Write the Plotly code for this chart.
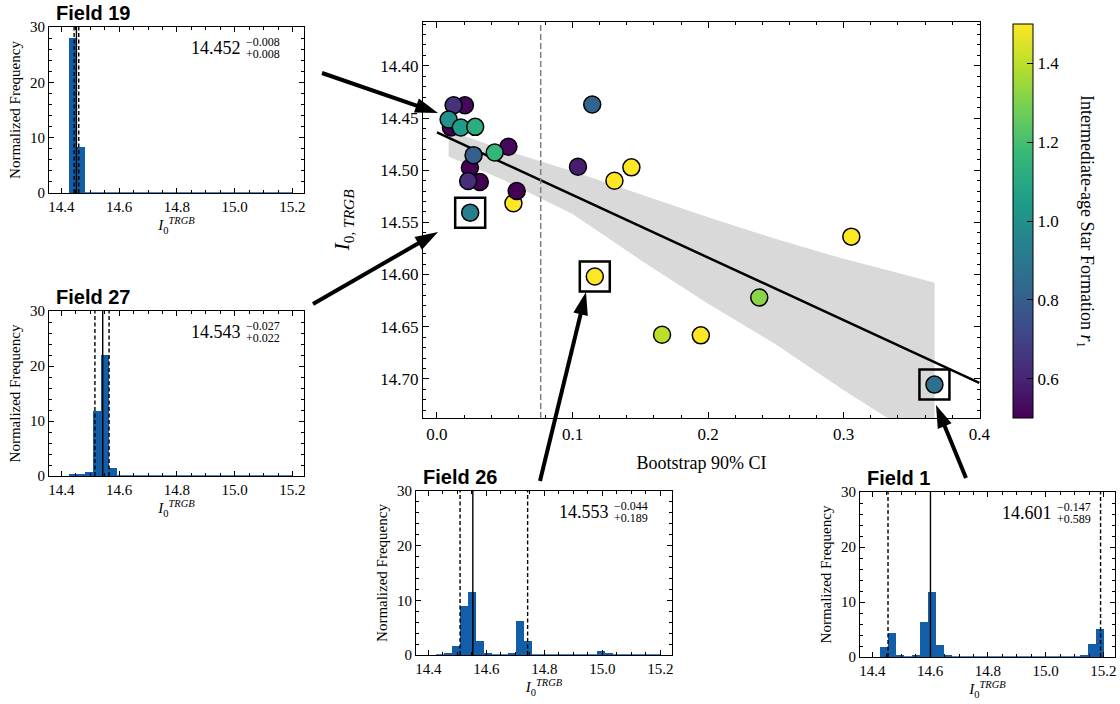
import math
import plotly.graph_objects as go

W, H = 1120, 704
SERIF = "Liberation Serif"
SANS = "Liberation Sans"

# ---------------- main scatter data ----------------
ci90 = [0.0206, 0.0123, 0.0103, 0.0086, 0.0176, 0.0282, 0.0527, 0.0426, 0.0243, 0.0270,
        0.0316, 0.0230, 0.0564, 0.0588, 0.0245, 0.1145, 0.1040, 0.1309, 0.1434, 0.1164,
        0.3056, 0.2377, 0.1660, 0.1946, 0.3669]
trgb = [14.4378, 14.4378, 14.4591, 14.4514, 14.4591, 14.4585, 14.4776, 14.4830, 14.4977, 14.4856,
        14.5114, 14.5104, 14.5317, 14.5200, 14.5407, 14.4371, 14.4967, 14.5101, 14.4973, 14.6019,
        14.5637, 14.6220, 14.6577, 14.6583, 14.7055]
r1 = [0.52, 0.64, 0.50, 1.00, 1.05, 1.12, 0.52, 1.16, 0.50, 0.80,
      0.50, 0.63, 1.50, 0.50, 0.93, 0.82, 0.58, 1.50, 1.50, 1.50,
      1.50, 1.32, 1.40, 1.50, 0.86]
boxed_idx = [14, 19, 24]

ci_threshold = 0.0765
fit_x = [0.0, 0.4]
fit_y = [14.4638, 14.7038]

band_x = [0.0086, 0.05, 0.10, 0.15, 0.20, 0.25, 0.30, 0.35, 0.367]
band_upper = [14.462, 14.481, 14.501, 14.523, 14.545, 14.566, 14.585, 14.602, 14.608]
band_lower = [14.487, 14.510, 14.542, 14.586, 14.628, 14.667, 14.711, 14.752, 14.765]

# ---------------- histogram data ----------------
bin_start = 14.426
bin_width = 0.0277
hist_f19 = [28.0, 8.3, 0, 0, 0, 0, 0, 0, 0, 0, 0, 0, 0, 0,
            0, 0, 0, 0, 0, 0, 0, 0, 0, 0, 0, 0, 0, 0]
hist_f27 = [0.3, 0.3, 0.7, 11.8, 22.0, 1.5, 0, 0, 0, 0, 0, 0, 0, 0,
            0, 0, 0, 0, 0, 0, 0, 0, 0, 0, 0, 0, 0, 0]
hist_f26 = [0, 0.3, 1.6, 9.0, 11.5, 2.6, 0.4, 0, 0, 0.4, 6.3, 2.6, 0, 0,
            0, 0, 0, 0, 0, 0, 0.8, 0.3, 0, 0, 0, 0, 0, 0]
hist_f1 = [1.8, 4.4, 0.4, 0, 0.4, 6.4, 11.8, 2.2, 0.2, 0, 0, 0, 0, 0,
           0, 0, 0, 0, 0, 0, 0, 0, 0, 0, 0, 0.2, 2.4, 5.1]

field_names = ["Field 19", "Field 27", "Field 26", "Field 1"]
field_hists = [hist_f19, hist_f27, hist_f26, hist_f1]
field_value = [14.452, 14.543, 14.553, 14.601]
field_minus = [0.008, 0.027, 0.044, 0.147]
field_plus = [0.008, 0.022, 0.189, 0.589]

# layout boxes in pixels: (left, top, right, bottom)
hist_boxes = [(49, 27, 304, 193), (49, 311, 304, 476), (416, 491, 672, 655), (860, 492, 1115, 657)]
main_box = (423, 22, 980, 418)
cbar_box = (1013, 24, 1033, 418)

# arrows (tail px, head px)
arrows = [((322, 73), (438, 113)), ((313, 304), (438, 232)),
          ((540, 481), (586, 292)), ((966, 478), (936, 405))]

BAR_COLOR = "#135ea8"

fig = go.Figure()


def dom_x(b):
    return [b[0] / W, b[2] / W]


def dom_y(b):
    return [1 - b[3] / H, 1 - b[1] / H]


# ---- main panel ----
fig.add_trace(go.Scatter(x=band_x + band_x[::-1], y=band_upper + band_lower[::-1],
                         fill="toself", fillcolor="#d9d9d9", mode="lines", line=dict(width=0),
                         hoverinfo="skip", showlegend=False, xaxis="x", yaxis="y"))
fig.add_trace(go.Scatter(x=fit_x, y=fit_y, mode="lines", line=dict(color="black", width=2.5),
                         showlegend=False, xaxis="x", yaxis="y"))
fig.add_trace(go.Scatter(
    x=ci90, y=trgb, mode="markers", showlegend=False, xaxis="x", yaxis="y",
    marker=dict(size=17, color=r1, colorscale="Viridis", cmin=0.5, cmax=1.5,
                line=dict(color="black", width=1.5),
                colorbar=dict(x=cbar_box[0] / W, xanchor="left", xref="paper",
                              y=1 - cbar_box[3] / H, yanchor="bottom", yref="paper",
                              len=cbar_box[3] - cbar_box[1], lenmode="pixels",
                              thickness=cbar_box[2] - cbar_box[0], thicknessmode="pixels",
                              xpad=0, ypad=0, outlinecolor="black", outlinewidth=1,
                              tickvals=[0.6, 0.8, 1.0, 1.2, 1.4], tickformat=".1f",
                              ticks="inside", ticklen=6, tickcolor="black",
                              tickfont=dict(size=17, family=SERIF, color="black")))))
fig.add_trace(go.Scatter(
    x=[ci90[i] for i in boxed_idx], y=[trgb[i] for i in boxed_idx], mode="markers",
    showlegend=False, xaxis="x", yaxis="y",
    marker=dict(symbol="square-open", size=30, color="black", line=dict(color="black", width=2.5))))

fig.add_shape(type="line", x0=ci_threshold, x1=ci_threshold, y0=0, y1=1, xref="x", yref="y domain",
              line=dict(color="#808080", width=1.5, dash="6px,3px"))

axis_common = dict(showline=True, linecolor="black", linewidth=1.2, mirror="allticks",
                   ticks="inside", tickcolor="black", showgrid=False, zeroline=False,
                   automargin=False)

layout = dict(
    template="none",
    width=W, height=H, margin=dict(l=0, r=0, t=0, b=0, pad=0, autoexpand=False),
    paper_bgcolor="white", plot_bgcolor="rgba(0,0,0,0)", showlegend=False,
    font=dict(family=SERIF, color="black"),
    bargap=0,
)
layout["xaxis"] = dict(axis_common, domain=dom_x(main_box), anchor="y", range=[-0.0103, 0.4005],
                       tick0=0, dtick=0.1, tickformat=".1f", ticklen=6,
                       minor=dict(ticks="inside", ticklen=3, tick0=0, dtick=0.02, tickcolor="black"),
                       tickfont=dict(size=17, family=SERIF),
                       title=dict(text="Bootstrap 90% CI", font=dict(size=18, family=SERIF), standoff=13))
layout["yaxis"] = dict(axis_common, domain=dom_y(main_box), anchor="x", range=[14.7375, 14.358],
                       tick0=14.4, dtick=0.05, tickformat=".2f", ticklen=6,
                       minor=dict(ticks="inside", ticklen=3, tick0=14.4, dtick=0.01, tickcolor="black"),
                       tickfont=dict(size=17, family=SERIF),
                       title=dict(text="<i>I</i><sub>0, <i>TRGB</i></sub>", font=dict(size=22, family=SERIF),
                                  standoff=24))

annotations = []
# colorbar label (reads top to bottom)
annotations.append(dict(text="Intermediate-age Star Formation <i>r</i><sub>1</sub>", xref="paper", yref="paper",
                        x=1086 / W, y=1 - 221 / H, xanchor="center", yanchor="middle", textangle=90,
                        showarrow=False, font=dict(family=SERIF, size=18, color="black")))

for k in range(4):
    n = k + 2
    xa, ya = f"x{n}", f"y{n}"
    box = hist_boxes[k]
    centers = [bin_start + bin_width * (i + 0.5) for i in range(len(field_hists[k]))]
    fig.add_trace(go.Bar(x=centers, y=field_hists[k], width=bin_width,
                         marker=dict(color=BAR_COLOR, line=dict(width=0)),
                         xaxis=xa, yaxis=ya, showlegend=False))
    edge_lo = bin_start
    edge_hi = bin_start + bin_width * len(field_hists[k])
    fig.add_trace(go.Scatter(x=[edge_lo, edge_hi], y=[0, 0], mode="lines",
                             line=dict(color=BAR_COLOR, width=1.5), xaxis=xa, yaxis=ya, showlegend=False))
    v, m, p = field_value[k], field_minus[k], field_plus[k]
    fig.add_shape(type="line", x0=v, x1=v, y0=0, y1=1, xref=xa, yref=f"{ya} domain",
                  line=dict(color="black", width=1.4))
    for xv in (v - m, v + p):
        fig.add_shape(type="line", x0=xv, x1=xv, y0=0, y1=1, xref=xa, yref=f"{ya} domain",
                      line=dict(color="black", width=1.4, dash="4px,2.5px"))
    layout[f"xaxis{n}"] = dict(axis_common, domain=dom_x(box), anchor=ya, range=[14.357, 15.24],
                               tick0=14.4, dtick=0.2, tickformat=".1f", ticklen=5,
                               minor=dict(ticks="inside", ticklen=2.5, tick0=14.4, dtick=0.05, tickcolor="black"),
                               tickfont=dict(size=15, family=SERIF),
                               title=dict(text="<i>I</i><sub>0</sub><sup><i>TRGB</i></sup>",
                                          font=dict(size=15, family=SERIF), standoff=3))
    layout[f"yaxis{n}"] = dict(axis_common, domain=dom_y(box), anchor=xa, range=[0, 30],
                               tick0=0, dtick=10, ticklen=5,
                               minor=dict(ticks="inside", ticklen=2.5, tick0=0, dtick=2, tickcolor="black"),
                               tickfont=dict(size=15, family=SERIF),
                               title=dict(text="Normalized Frequency", font=dict(size=15, family=SERIF),
                                          standoff=5))
    # panel title
    annotations.append(dict(text=f"<b>{field_names[k]}</b>", xref="paper", yref="paper",
                            x=(box[0] + 5) / W, y=1 - (box[1] - 14) / H, xanchor="left", yanchor="middle",
                            showarrow=False, font=dict(family=SANS, size=20, color="black")))
    # value with asymmetric errors
    annotations.append(dict(text=f"{v:.3f}", xref="paper", yref="paper", borderpad=0,
                            x=(box[2] - 62) / W, y=1 - (box[1] + 21) / H, xanchor="right", yanchor="middle",
                            showarrow=False, font=dict(family=SERIF, size=18, color="black")))
    annotations.append(dict(text=f"\u2212{m:.3f}", xref="paper", yref="paper", borderpad=0,
                            x=(box[2] - 59) / W, y=1 - (box[1] + 15) / H, xanchor="left", yanchor="middle",
                            showarrow=False, font=dict(family=SERIF, size=12, color="black")))
    annotations.append(dict(text=f"+{p:.3f}", xref="paper", yref="paper", borderpad=0,
                            x=(box[2] - 59) / W, y=1 - (box[1] + 27) / H, xanchor="left", yanchor="middle",
                            showarrow=False, font=dict(family=SERIF, size=12, color="black")))

# overlay axis in pixel coordinates for the arrows
layout["xaxis6"] = dict(domain=[0, 1], range=[0, W], visible=False, anchor="y6", fixedrange=True,
                        automargin=False)
layout["yaxis6"] = dict(domain=[0, 1], range=[H, 0], visible=False, anchor="x6", fixedrange=True,
                        automargin=False)
for (tx, ty), (hx, hy) in arrows:
    dx, dy = hx - tx, hy - ty
    L = math.hypot(dx, dy)
    back = 12.0
    sx, sy = hx - dx / L * back, hy - dy / L * back
    fig.add_trace(go.Scatter(x=[tx, sx], y=[ty, sy], mode="lines", line=dict(color="black", width=4),
                             xaxis="x6", yaxis="y6", showlegend=False, hoverinfo="skip", cliponaxis=False))
    ang = math.degrees(math.atan2(dx, -dy))
    fig.add_trace(go.Scatter(x=[hx], y=[hy], mode="markers",
                             marker=dict(symbol="arrow", size=24, color="black", angle=ang,
                                         line=dict(width=0)),
                             xaxis="x6", yaxis="y6", showlegend=False, hoverinfo="skip", cliponaxis=False))

layout["annotations"] = annotations
fig.update_layout(**layout)
fig.write_html("out.html")
